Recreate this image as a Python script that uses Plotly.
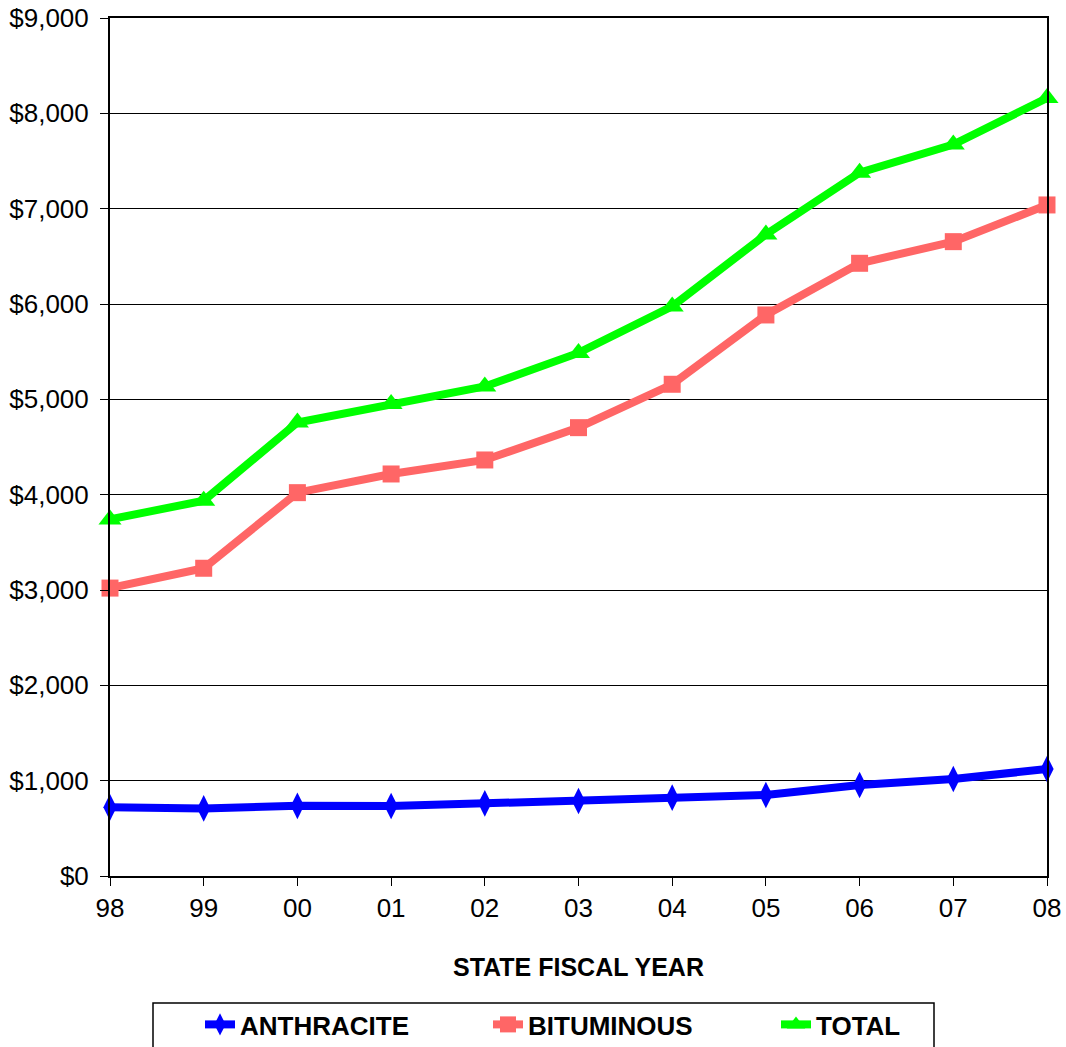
import plotly.graph_objects as go

# State fiscal years (two-digit labels)
years = ["98", "99", "00", "01", "02", "03", "04", "05", "06", "07", "08"]

# Values in dollars
anthracite = [720, 709, 736, 734, 762, 787, 822, 850, 955, 1018, 1122]
bituminous = [3020, 3228, 4021, 4217, 4364, 4703, 5158, 5885, 6427, 6654, 7039]
total = [3740, 3937, 4757, 4951, 5135, 5487, 5975, 6730, 7378, 7672, 8161]

y_ticks = [0, 1000, 2000, 3000, 4000, 5000, 6000, 7000, 8000, 9000]
y_labels = ["$0", "$1,000", "$2,000", "$3,000", "$4,000", "$5,000",
            "$6,000", "$7,000", "$8,000", "$9,000"]

FONT = "Liberation Sans, Arial, sans-serif"
W, H = 1066, 1047

fig = go.Figure()

fig.add_trace(go.Scatter(
    x=years, y=anthracite, name="ANTHRACITE", mode="lines+markers",
    line=dict(color="#0000FF", width=8),
    marker=dict(symbol="diamond-tall", size=19, color="#0000FF"),
    cliponaxis=False,
))
fig.add_trace(go.Scatter(
    x=years, y=bituminous, name="BITUMINOUS", mode="lines+markers",
    line=dict(color="#FF6666", width=8),
    marker=dict(symbol="square", size=17, color="#FF6666"),
    cliponaxis=False,
))
fig.add_trace(go.Scatter(
    x=years, y=total, name="TOTAL", mode="lines+markers",
    line=dict(color="#00FF00", width=8),
    marker=dict(symbol="triangle-up", size=20, color="#00FF00"),
    cliponaxis=False,
))

# Legend frame (runs off the bottom edge of the figure)
fig.add_shape(
    type="rect", xref="paper", yref="paper",
    x0=(153 - 110) / 937, x1=(934 - 110) / 937,
    y0=-(1065 - 876) / 858, y1=-(1003 - 876) / 858,
    line=dict(color="black", width=1.5), fillcolor="rgba(0,0,0,0)",
)

fig.update_layout(
    width=W, height=H,
    margin=dict(l=110, r=19, t=18, b=171),
    paper_bgcolor="white", plot_bgcolor="white",
    font=dict(family=FONT, size=25, color="black"),
    showlegend=True,
    legend=dict(
        orientation="h",
        xref="container", x=200 / W, xanchor="left",
        yref="container", y=1 - 1001 / H, yanchor="top",
        font=dict(family=FONT, size=26, color="black", weight="bold"),
        entrywidth=243, entrywidthmode="pixels",
        bgcolor="rgba(0,0,0,0)", borderwidth=0,
    ),
    xaxis=dict(
        type="category", range=[0, 10], automargin=False,
        showline=True, linecolor="black", linewidth=2, mirror=True,
        ticks="outside", ticklen=8, tickcolor="black",
        showgrid=False,
        tickfont=dict(size=26),
        title=dict(text="<b>STATE FISCAL YEAR</b>", font=dict(size=25), standoff=36),
    ),
    yaxis=dict(
        range=[0, 9000], tickvals=y_ticks, ticktext=y_labels, automargin=False,
        showline=True, linecolor="black", linewidth=2, mirror=True,
        ticks="outside", ticklen=8, tickcolor="black",
        showgrid=True, gridcolor="black", gridwidth=1,
        tickfont=dict(size=26), ticklabelstandoff=6,
        zeroline=False,
    ),
)

fig.write_html("out.html")
